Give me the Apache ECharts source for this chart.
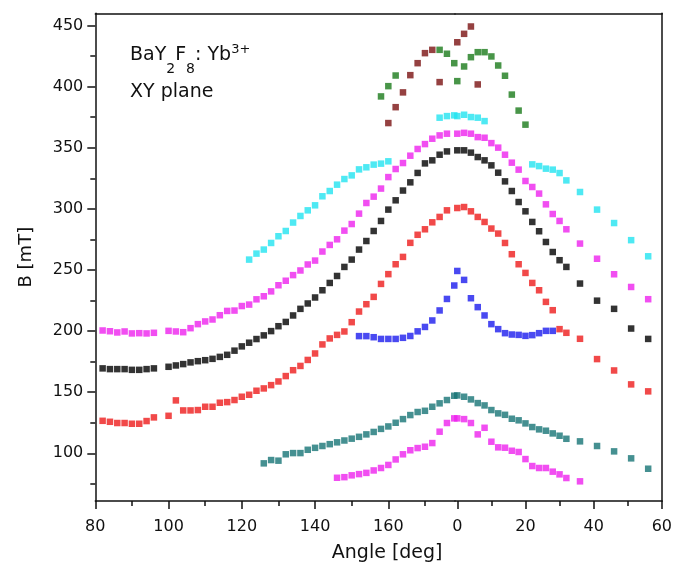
<!DOCTYPE html>
<html><head><meta charset="utf-8">
<script src="https://cdn.jsdelivr.net/npm/echarts@6/dist/echarts.min.js"></script>
<style>html,body{margin:0;padding:0;background:#fff}#c{width:675px;height:570px}</style>
</head><body><div id="c"></div>
<script>
// ---- data: [angle, B] pairs; left panel 80..178 deg, right panel 0..60 deg ----
const cyanLeft = [[122,258.5],[124,263.4],[126,266.7],[128,272.1],[130,277.6],[132,281.9],[134,288.8],[136,294.2],[138,298.8],[140,302.9],[142,310.3],[144,314.6],[146,319.8],[148,324.4],[150,327.4],[152,332.3],[154,334],[156,336.2],[158,337],[160,338.9],[174,374.6],[176,375.9],[178,376.5]];
const cyanRight = [[0,375.9],[2,377],[4,375.1],[6,374.6],[8,371.8],[22,336.4],[24,335],[26,332.9],[28,332.1],[30,329.3],[32,323.3],[36,313.8],[41,299.4],[46,288.4],[51,274.4],[56,261.2]];
const magentaLeft = [[82,200.5],[84,199.9],[86,198.9],[88,199.7],[90,198.1],[92,198.3],[94,198.1],[96,198.6],[100,200.2],[102,199.7],[104,199.1],[106,202.4],[108,205.7],[110,207.9],[112,209.5],[114,213],[116,216.5],[118,216.8],[120,220.5],[122,221.7],[124,226],[126,228.5],[128,232.5],[130,237.5],[132,241.2],[134,245.8],[136,249.6],[138,254.5],[140,257.7],[142,265.1],[144,270.5],[146,275.1],[148,282.2],[150,287.6],[152,296.1],[154,304.8],[156,310],[158,316.6],[160,326],[162,332.6],[164,337.5],[166,343.5],[168,349],[170,353],[172,357.4],[174,360.1],[176,361.5]];
const magentaRight = [[0,361.5],[2,362.2],[4,361.5],[6,358.7],[8,358.2],[10,353.8],[12,350.1],[14,344.3],[16,337.8],[18,332.1],[20,322.8],[22,317.9],[24,312.5],[26,303.7],[28,295.8],[30,290.1],[32,283.3],[36,271.6],[41,259.2],[46,246.5],[51,236.1],[56,226.1]];
const blackLeft = [[82,169.5],[84,168.9],[86,168.9],[88,168.9],[90,168.3],[92,168.3],[94,168.9],[96,169.5],[100,170.8],[102,171.9],[104,173],[106,174.4],[108,175.4],[110,176.2],[112,177.3],[114,178.9],[116,180.6],[118,184],[120,187.5],[122,190.5],[124,193.5],[126,196.5],[128,200],[130,204],[132,207.5],[134,212.8],[136,218.2],[138,222.6],[140,227.5],[142,233.4],[144,239.4],[146,245.1],[148,252.5],[150,258.5],[152,266.7],[154,273.7],[156,281.9],[158,290.1],[160,299.4],[162,307],[164,315],[166,321.7],[168,329.4],[170,337.2],[172,339.7],[174,344.3],[176,347]];
const blackRight = [[0,347.9],[2,347.9],[4,346],[6,342.4],[8,339.7],[10,335.6],[12,329.6],[14,322.5],[16,314.6],[18,305.6],[20,298],[22,289.3],[24,281.7],[26,272.9],[28,264.7],[30,258],[32,252.5],[36,238.9],[41,224.9],[46,218.2],[51,202.1],[56,193.6]];
const redLeft = [[82,126.6],[84,125.8],[86,124.8],[88,124.8],[90,124.2],[92,124.2],[94,126.4],[96,129.4],[100,130.7],[102,143.3],[104,135.1],[106,135.1],[108,135.4],[110,138.1],[112,138.1],[114,141.4],[116,141.9],[118,143.6],[120,146.3],[122,147.9],[124,151.2],[126,153.1],[128,155.8],[130,158.8],[132,163.2],[134,168],[136,171.5],[138,176.4],[140,181.7],[142,189.1],[144,194],[146,196.9],[148,199.7],[150,207.3],[152,216],[154,222],[156,228],[158,238.6],[160,246.6],[162,254.7],[164,260.7],[166,272.2],[168,278.8],[170,283.3],[172,289],[174,293.4],[176,298.8]];
const redRight = [[0,300.7],[2,301.5],[4,298],[6,293.4],[8,289.3],[10,283.9],[12,279.8],[14,272.1],[16,262.9],[18,254.7],[20,247.6],[22,239.4],[24,233.4],[26,223.9],[28,217.1],[30,201.6],[32,198.6],[36,193.7],[41,177.1],[46,167.8],[51,156.4],[56,150.7]];
const blueLeft = [[152,195.9],[154,195.9],[156,195],[158,193.6],[160,193.6],[162,193.6],[164,194.5],[166,196],[168,199.8],[170,203.4],[172,208.7],[174,216.9],[176,226.3],[178,237.3]];
const blueRight = [[0,249.2],[2,241.9],[4,226.9],[6,219.6],[8,212.8],[10,205.7],[12,201.6],[14,198.3],[16,197.2],[18,196.9],[20,196.1],[22,196.7],[24,198.3],[26,200.2],[28,200.2]];
const tealLeft = [[126,91.8],[128,94.5],[130,94],[132,99.2],[134,100.2],[136,100.2],[138,102.9],[140,104.5],[142,106],[144,107.5],[146,109],[148,110.5],[150,112],[152,113.5],[154,115.5],[156,117.5],[158,120],[160,122],[162,125],[164,128],[166,131.3],[168,133.8],[170,134.8],[172,138.1],[174,140.9],[176,143.6],[178,147.1]];
const tealRight = [[0,147.4],[2,146.3],[4,144.1],[6,141.1],[8,139.2],[10,135.4],[12,132.7],[14,131.5],[16,128.3],[18,127],[20,124.5],[22,121.5],[24,119.6],[26,118.5],[28,116.3],[30,114.4],[32,111.9],[36,109.8],[41,106],[46,101.6],[51,95.9],[56,87.4]];
const magenta2Left = [[146,80],[148,80.5],[150,82],[152,83],[154,84],[156,86],[158,88],[160,90.5],[162,95],[164,99.2],[166,102.5],[168,104.3],[170,105.4],[172,108.4],[174,117.7],[176,124.8],[178,128.6]];
const magenta2Right = [[0,128.6],[2,128],[4,124.8],[6,115.5],[8,120.9],[10,109.5],[12,104.9],[14,104.6],[16,102.1],[18,101.1],[20,95.3],[22,89.6],[24,88],[26,88],[28,85],[30,82.8],[32,79.8],[36,77.1]];
const darkRedLeft = [[160,370.2],[162,383.2],[164,395.3],[166,409.4],[168,419.2],[170,427.4],[172,430.1],[174,403.7]];
const darkRedRight = [[0,436.3],[2,443.2],[4,449.2],[6,401.8]];
const greenLeft = [[158,392],[160,400.4],[162,409.1],[174,430.1],[176,426.9],[178,419.2]];
const greenRight = [[0,404.5],[2,416.5],[4,424.1],[6,428.2],[8,428.2],[10,424.7],[12,417.3],[14,408.9],[16,393.5],[18,380.4],[20,368.9]];

// ---- ticks ----
const xTicksLeft = [80,100,120,140,160];
const xMinorLeft = [90,110,130,150,170];
const xTicksRight = [0,20,40,60];
const xMinorRight = [10,30,50];
const yTicks = [100,150,200,250,300,350,400,450];
const yMinor = [75,125,175,225,275,325,375,425];

const FONT = 'DejaVu Sans';
const INK = '#111';
const LX = [80, 178.2], RX = [-0.67, 60.09], YR = [61, 460];
const line = {show:true, onZero:false, lineStyle:{color:INK, width:1.5}};
const noLine = {show:false, onZero:false};
const lbl = {show:true, color:INK, fontFamily:FONT, fontSize:16};

function xAx(grid, ext, pos, opts) {
  return Object.assign({type:'value', gridIndex:grid, position:pos, min:ext[0], max:ext[1],
    splitLine:{show:false}, axisLine:noLine, axisTick:{show:false}, axisLabel:{show:false}}, opts);
}
function yAx(grid, pos, opts) {
  return Object.assign({type:'value', gridIndex:grid, position:pos, min:YR[0], max:YR[1],
    splitLine:{show:false}, axisLine:noLine, axisTick:{show:false}, axisLabel:{show:false}}, opts);
}

const xAxis = [
  xAx(0, LX, 'bottom', {axisLine:line, axisTick:{show:true, length:8, customValues:xTicksLeft, lineStyle:{color:INK,width:1.5}},
    axisLabel:Object.assign({customValues:xTicksLeft, margin:18}, lbl),
    name:'Angle [deg]', nameLocation:'middle', nameGap:43,
    nameTextStyle:{color:INK, fontFamily:FONT, fontSize:19, padding:[0,0,0,224]}}),
  xAx(0, LX, 'bottom', {axisTick:{show:true, length:5, customValues:xMinorLeft, lineStyle:{color:INK,width:1.5}}}),
  xAx(0, LX, 'top', {axisLine:line}),
  xAx(1, RX, 'bottom', {axisLine:line, axisTick:{show:true, length:8, customValues:xTicksRight, lineStyle:{color:INK,width:1.5}},
    axisLabel:Object.assign({customValues:xTicksRight, margin:18}, lbl)}),
  xAx(1, RX, 'bottom', {axisTick:{show:true, length:5, customValues:xMinorRight, lineStyle:{color:INK,width:1.5}}}),
  xAx(1, RX, 'top', {axisLine:line})
];
const yAxis = [
  yAx(0, 'left', {axisLine:line, axisTick:{show:true, length:8, customValues:yTicks, lineStyle:{color:INK,width:1.5}},
    axisLabel:Object.assign({customValues:yTicks, margin:12}, lbl),
    name:'B [mT]', nameLocation:'middle', nameGap:60,
    nameTextStyle:{color:INK, fontFamily:FONT, fontSize:18}}),
  yAx(0, 'left', {axisTick:{show:true, length:5, customValues:yMinor, lineStyle:{color:INK,width:1.5}}}),
  yAx(1, 'right', {axisLine:line})
];

const series = [];
function add(data, color, right) {
  series.push({type:'scatter', data:data, symbol:'rect', symbolSize:6.5,
    itemStyle:{color:color}, clip:!right,
    xAxisIndex: right ? 3 : 0, yAxisIndex: right ? 2 : 0, silent:true});
}
const groups = [
  [cyanLeft, cyanRight, '#22e4f0'],
  [magentaLeft, magentaRight, '#ee22ee'],
  [blackLeft, blackRight, '#000000'],
  [redLeft, redRight, '#ee1c1c'],
  [blueLeft, blueRight, '#1c1cee'],
  [tealLeft, tealRight, '#177476'],
  [magenta2Left, magenta2Right, '#ee22ee'],
  [darkRedLeft, darkRedRight, '#7a1212'],
  [greenLeft, greenRight, '#1a7a1a']
];
groups.forEach(g => { add(g[0], g[2], false); add(g[1], g[2], true); });

const chart = echarts.init(document.getElementById('c'), null, {renderer:'canvas'});
chart.setOption({
  animation:false,
  backgroundColor:'#fff',
  grid:[
    {left:95.3, top:13.3, width:359.7, height:487.7},
    {left:455, top:13.3, width:207.7, height:487.7}
  ],
  xAxis:xAxis,
  yAxis:yAxis,
  series:series,
  graphic:[{
    type:'text', left:130, top:43,
    style:{
      text:'{n|BaY}{sub|2}{n|F}{sub|8}{n|: Yb}{sup|3+}',
      fill:INK,
      rich:{
        n:{fontSize:19, fontFamily:FONT, lineHeight:24, verticalAlign:'top', padding:[3,0,0,0], fill:INK},
        sub:{fontSize:14, fontFamily:FONT, lineHeight:14, verticalAlign:'top', padding:[19.5,0,0,0], fill:INK},
        sup:{fontSize:13, fontFamily:FONT, lineHeight:13, verticalAlign:'top', fill:INK}
      }
    }
  }, {
    type:'text', left:130, top:80,
    style:{text:'XY plane', fill:INK, fontSize:19, fontFamily:FONT, lineHeight:24, verticalAlign:'top'}
  }]
});
</script></body></html>
